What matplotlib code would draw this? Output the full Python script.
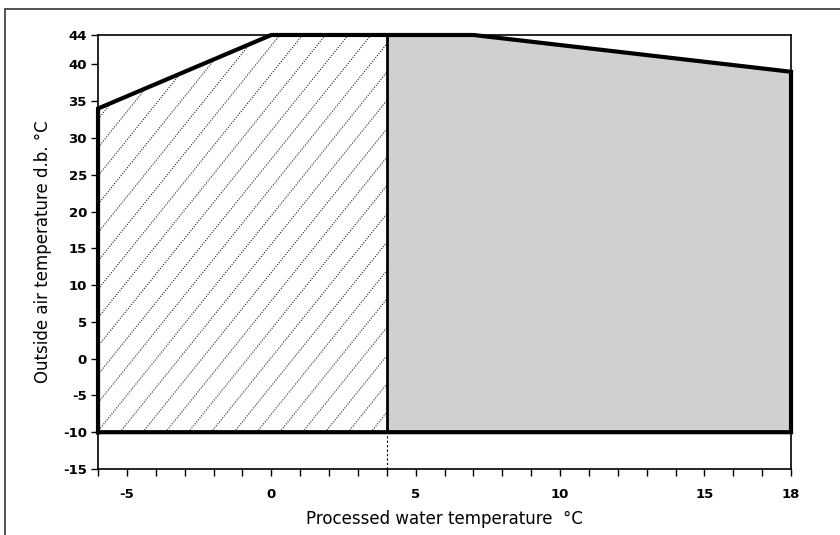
import numpy as np
import matplotlib.pyplot as plt
from matplotlib.patches import Polygon, Rectangle

plt.rcParams['axes.unicode_minus'] = False

# Operating envelope (water temp degC, outside air degC)
hatched_x = [-6, -6, 0, 4, 4]
hatched_y = [-10, 34, 44, 44, -10]
grey_x = [4, 4, 7, 18, 18]
grey_y = [-10, 44, 44, 39, -10]

x_ticks = [-5, 0, 5, 10, 15, 18]
y_ticks = [-15, -10, -5, 0, 5, 10, 15, 20, 25, 30, 35, 40, 44]

fig = plt.figure(figsize=(8.4, 5.35), dpi=100)
ax = fig.add_axes([0.1167, 0.1234, 0.825, 0.8112])

# outer frame round the figure
fig.patches.append(Rectangle((5 / 840, -0.1), 1.2, 1 - 9 / 535 + 0.1, transform=fig.transFigure,
                             fill=False, edgecolor='#444444', linewidth=1.3))

# grey region
grey = Polygon(list(zip(grey_x, grey_y)), closed=True, facecolor='#d0d0d0', edgecolor='none', zorder=1)
ax.add_patch(grey)

# hatched region: dotted diagonal lines clipped to the polygon
hatch_poly = Polygon(list(zip(hatched_x, hatched_y)), closed=True, facecolor='white', edgecolor='none', zorder=1)
ax.add_patch(hatch_poly)
slope = 4.88
for x0 in np.arange(-5.24 - 0.79 * 12, 4.5, 0.79):
    xs = np.array([x0, x0 + 60 / slope])
    ln, = ax.plot(xs, -10 + slope * (xs - x0), color='#222222', linestyle=(0, (1, 1.3)),
                  linewidth=0.8, zorder=2)
    ln.set_clip_path(hatch_poly)

# thick envelope outline
ax.plot([-6, -6, 0, 7, 18, 18, -6], [-10, 34, 44, 44, 39, -10, -10], color='black',
        linewidth=3, solid_joinstyle='miter', zorder=4, clip_on=False)
ax.plot([4, 4], [-10, 44], color='black', linewidth=2, zorder=3)
ax.plot([4, 4], [-15, -10], color='black', linewidth=0.8, linestyle=(0, (2, 2)), zorder=3)

ax.set_xlim(-6, 18)
ax.set_ylim(-15, 44)
ax.set_xticks(x_ticks)
ax.set_xticks(np.arange(-6, 19, 1), minor=True)
ax.set_yticks(y_ticks)
ax.tick_params(axis='both', which='both', direction='out', length=5, width=1, labelsize=9.5)
ax.tick_params(axis='x', pad=9)
ax.tick_params(axis='y', pad=3)
for lab in ax.get_xticklabels() + ax.get_yticklabels():
    lab.set_fontweight('bold')
for s in ax.spines.values():
    s.set_linewidth(1.2)

ax.set_xlabel('Processed water temperature  °C', fontsize=12, labelpad=6)
ax.set_ylabel('Outside air temperature d.b. °C', fontsize=12, labelpad=8)

fig.savefig('out.png', dpi=100)
